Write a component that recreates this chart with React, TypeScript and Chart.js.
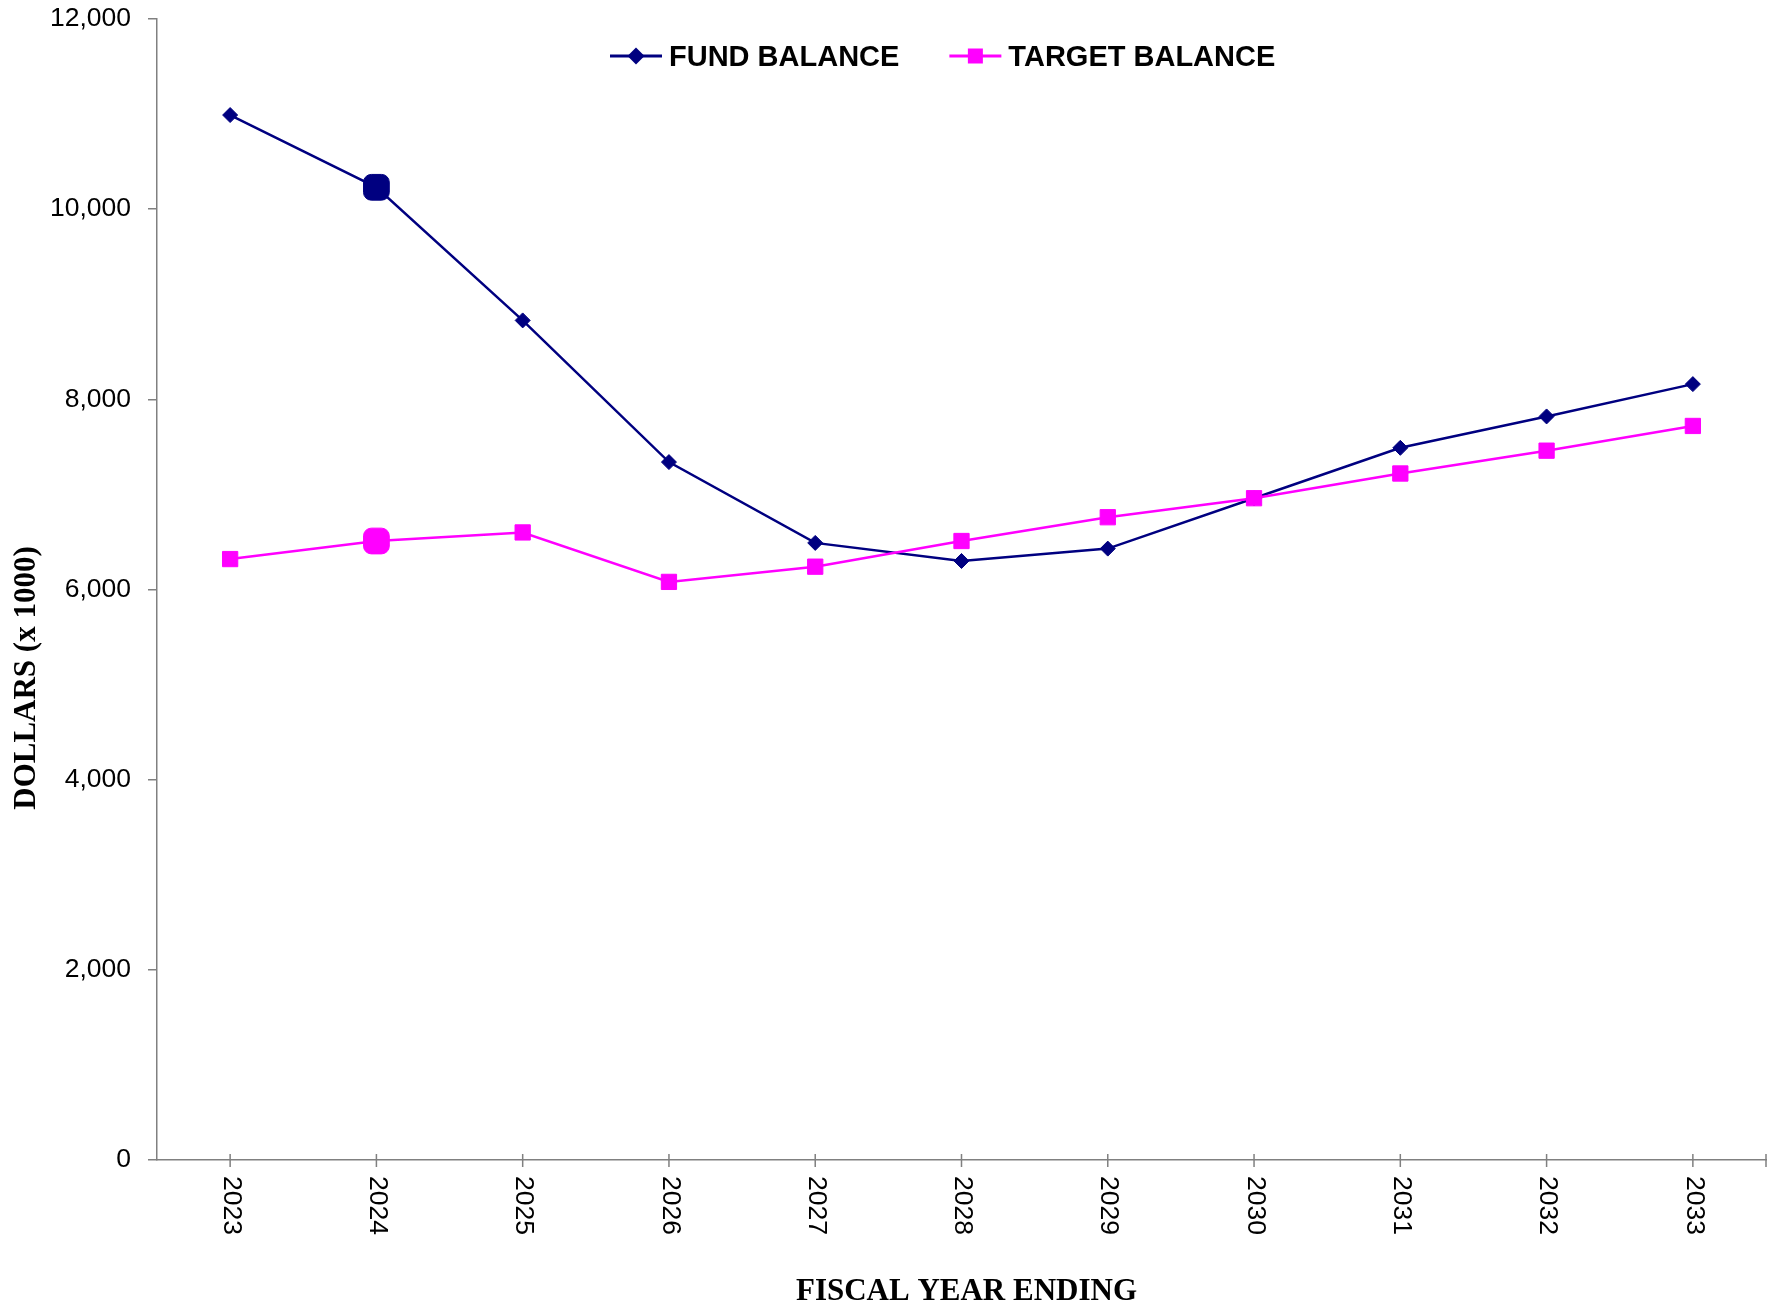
import React, { useEffect, useRef } from "react";
import { Chart, registerables } from "chart.js";

Chart.register(...registerables);

const YEARS = ["2023", "2024", "2025", "2026", "2027", "2028", "2029", "2030", "2031", "2032", "2033"];
const FUND_BALANCE = [10990, 10230, 8830, 7340, 6490, 6300, 6430, 6960, 7490, 7820, 8160];
const TARGET_BALANCE = [6320, 6510, 6600, 6080, 6240, 6510, 6760, 6960, 7220, 7460, 7720];
const Y_TICKS = [0, 2000, 4000, 6000, 8000, 10000, 12000];
const HIGHLIGHT_INDEX = 1;

const SERIES_NAMES = ["FUND BALANCE", "TARGET BALANCE"];
const Y_TITLE = "DOLLARS (x 1000)";
const X_TITLE = "FISCAL YEAR ENDING";

const NAVY = "#000080";
const MAGENTA = "#FF00FF";
const AXIS = "#808080";
const SANS = "'Liberation Sans', Arial, sans-serif";
const SERIF = "'Liberation Serif', 'Times New Roman', serif";

const W = 1775;
const H = 1306;

function drawMarker(ctx: CanvasRenderingContext2D, style: string, x: number, y: number, r: number) {
  ctx.beginPath();
  if (style === "rectRot") {
    ctx.moveTo(x - r, y);
    ctx.lineTo(x, y - r);
    ctx.lineTo(x + r, y);
    ctx.lineTo(x, y + r);
  } else {
    ctx.rect(x - r, y - r, 2 * r, 2 * r);
  }
  ctx.closePath();
  ctx.fill();
}

const customDraw = {
  id: "customDraw",
  afterDraw(chart: any) {
    const ctx: CanvasRenderingContext2D = chart.ctx;
    const xs = chart.scales.x;
    const area = chart.chartArea;
    ctx.save();

    // x-axis tick marks crossing the axis
    ctx.strokeStyle = AXIS;
    ctx.lineWidth = 1.5;
    const tickXs: number[] = xs.ticks.map((_: any, i: number) => xs.getPixelForTick(i));
    tickXs.push(area.right);
    ctx.beginPath();
    tickXs.forEach((x) => {
      ctx.moveTo(x, area.bottom - 6);
      ctx.lineTo(x, area.bottom + 7);
    });
    ctx.stroke();

    // x labels rotated clockwise
    ctx.fillStyle = "#000";
    ctx.font = `26.5px ${SANS}`;
    ctx.textAlign = "left";
    ctx.textBaseline = "middle";
    xs.ticks.forEach((t: any, i: number) => {
      const x = xs.getPixelForTick(i);
      ctx.save();
      ctx.translate(x + 1, area.bottom + 16);
      ctx.rotate(Math.PI / 2);
      ctx.fillText(String(xs.getLabelForValue(t.value)), 0, 0);
      ctx.restore();
    });

    // axis titles
    ctx.font = `bold 31px ${SERIF}`;
    ctx.textAlign = "center";
    ctx.textBaseline = "alphabetic";
    ctx.save();
    ctx.translate(35, 678);
    ctx.rotate(-Math.PI / 2);
    ctx.fillText(Y_TITLE, 0, 0);
    ctx.restore();
    ctx.fillText(X_TITLE, (area.left + area.right) / 2 + 5, 1300);

    // legend
    const styles = ["rectRot", "rect"];
    const sizes = [8.5, 7.5];
    const lineLen = 52;
    let lx = 610;
    const ly = 56;
    ctx.font = `bold 29px ${SANS}`;
    ctx.textAlign = "left";
    chart.data.datasets.forEach((ds: any, i: number) => {
      ctx.strokeStyle = ds.borderColor;
      ctx.fillStyle = ds.borderColor;
      ctx.lineWidth = 3;
      ctx.beginPath();
      ctx.moveTo(lx, ly);
      ctx.lineTo(lx + lineLen, ly);
      ctx.stroke();
      drawMarker(ctx, styles[i], lx + lineLen / 2, ly, sizes[i]);
      const tx = lx + lineLen + 7;
      const tw = ctx.measureText(ds.label).width;
      ctx.fillStyle = "#000";
      ctx.fillText(ds.label, tx, 66);
      lx = tx + tw + 50;
    });

    ctx.restore();
  },
};

export default function App() {
  const ref = useRef<HTMLCanvasElement | null>(null);

  useEffect(() => {
    if (!ref.current) return;
    const mk = (base: string) => YEARS.map((_, i) => (i === HIGHLIGHT_INDEX ? "rectRounded" : base));
    const rad = (base: number) => YEARS.map((_, i) => (i === HIGHLIGHT_INDEX ? 15 : base));
    const chart = new Chart(ref.current, {
      type: "line",
      data: {
        labels: YEARS,
        datasets: [
          {
            label: SERIES_NAMES[0],
            data: FUND_BALANCE,
            borderColor: NAVY,
            backgroundColor: NAVY,
            borderWidth: 2.5,
            pointStyle: mk("rectRot") as any,
            pointRadius: rad(7.5),
            pointBorderWidth: 1,
            pointBorderColor: NAVY,
            pointBackgroundColor: NAVY,
            tension: 0,
            order: 2,
          },
          {
            label: SERIES_NAMES[1],
            data: TARGET_BALANCE,
            borderColor: MAGENTA,
            backgroundColor: MAGENTA,
            borderWidth: 2.5,
            pointStyle: mk("rect") as any,
            pointRadius: rad(10.8),
            pointBorderWidth: 1,
            pointBorderColor: MAGENTA,
            pointBackgroundColor: MAGENTA,
            tension: 0,
            order: 1,
          },
        ],
      },
      options: {
        responsive: false,
        animation: false,
        devicePixelRatio: 1,
        layout: { autoPadding: false, padding: { left: 0, top: 0, right: 9, bottom: 0 } },
        plugins: {
          legend: { display: false },
          tooltip: { enabled: false },
          title: { display: false },
        },
        scales: {
          x: {
            type: "category",
            offset: true,
            grid: { display: false },
            border: { display: true, color: AXIS, width: 1.5 },
            ticks: { display: false },
            afterFit: (s: any) => {
              s.height = H - 1160;
              s.paddingLeft = 0;
              s.paddingRight = 0;
            },
          },
          y: {
            min: 0,
            max: 12000,
            afterBuildTicks: (s: any) => {
              s.ticks = Y_TICKS.map((v) => ({ value: v }));
            },
            grid: {
              display: true,
              drawOnChartArea: false,
              drawTicks: true,
              tickLength: 9,
              color: AXIS,
              lineWidth: 1.5,
            },
            border: { display: true, color: AXIS, width: 1.5 },
            ticks: {
              padding: 17,
              color: "#000",
              font: { family: SANS, size: 26.5 },
              callback: (v: any) => Number(v).toLocaleString("en-US"),
            },
            afterFit: (s: any) => {
              s.width = 157;
              s.paddingTop = 19;
              s.paddingBottom = 0;
            },
          },
        },
      },
      plugins: [customDraw],
    });
    return () => chart.destroy();
  }, []);

  return (
    <div style={{ position: "fixed", left: 0, top: 0, width: W, height: H, background: "#fff" }}>
      <canvas ref={ref} width={W} height={H} style={{ display: "block", width: W, height: H }} />
    </div>
  );
}
